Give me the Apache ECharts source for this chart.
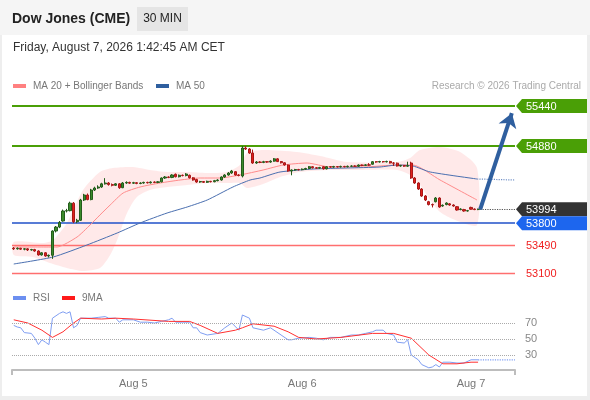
<!DOCTYPE html>
<html><head><meta charset="utf-8">
<script src="https://cdn.jsdelivr.net/npm/echarts@6/dist/echarts.min.js"></script>
<style>html,body{margin:0;padding:0;background:#fff}#c{width:590px;height:400px}</style>
</head><body><div id="c"></div>
<script>
// ---------- DATA ----------
// 30-min candles [open, close, low, high], Aug 4 07:00 -> Aug 7 01:00
const candles = [
[53450,53440,53425,53465],[53440,53448,53430,53460],[53448,53436,53425,53455],[53436,53440,53420,53450],
[53440,53425,53410,53450],[53425,53430,53415,53440],[53430,53410,53400,53440],[53410,53355,53345,53420],
[53355,53385,53345,53395],[53385,53340,53330,53395],[53340,53350,53320,53360],[53350,53690,53300,53700],
[53690,53745,53670,53760],[53745,53810,53730,53830],[53830,53970,53820,53990],[53970,53975,53950,54000],
[53975,54080,53965,54100],[54080,53820,53800,54095],[53820,53840,53800,53860],[53840,54124,53830,54140],
[54124,54194,54110,54210],[54194,54130,54120,54215],[54130,54264,54120,54280],[54264,54292,54250,54310],
[54292,54306,54280,54330],[54306,54350,54295,54365],[54350,54362,54340,54430],[54362,54340,54325,54375],
[54340,54330,54315,54355],[54330,54350,54320,54360],[54350,54296,54280,54360],[54296,54362,54290,54375],
[54362,54370,54350,54385],[54370,54360,54350,54380],[54360,54366,54350,54378],[54366,54356,54345,54375],
[54356,54362,54345,54372],[54362,54370,54352,54380],[54370,54365,54355,54380],[54365,54375,54355,54385],
[54375,54370,54360,54385],[54370,54378,54360,54390],[54378,54432,54370,54440],[54432,54446,54420,54460],
[54446,54440,54430,54455],[54440,54474,54430,54485],[54484,54450,54440,54495],[54450,54470,54440,54480],
[54470,54466,54455,54480],[54466,54488,54455,54500],[54470,54435,54425,54480],[54435,54404,54395,54445],
[54410,54376,54365,54420],[54376,54382,54365,54392],[54382,54372,54362,54390],[54372,54385,54362,54395],
[54385,54380,54370,54392],[54380,54395,54372,54405],[54395,54404,54385,54415],[54404,54446,54395,54455],
[54446,54474,54435,54485],[54474,54502,54465,54515],[54502,54530,54490,54545],[54520,54474,54465,54530],
[54474,54468,54455,54485],[54460,54852,54440,54880],[54852,54838,54825,54880],[54838,54782,54770,54850],
[54782,54642,54630,54830],[54642,54656,54630,54670],[54656,54650,54640,54668],[54650,54660,54640,54672],
[54660,54655,54645,54670],[54655,54668,54645,54680],[54668,54700,54660,54712],[54700,54662,54655,54710],
[54662,54645,54635,54670],[54645,54614,54605,54652],[54614,54530,54520,54620],[54530,54544,54470,54552],
[54544,54550,54535,54560],[54550,54548,54538,54560],[54548,54556,54540,54566],[54556,54565,54545,54575],
[54565,54590,54555,54600],[54590,54575,54565,54598],[54575,54570,54560,54585],[54570,54578,54560,54588],
[54590,54560,54550,54598],[54560,54590,54552,54600],[54590,54585,54575,54600],[54585,54592,54575,54602],
[54592,54588,54578,54600],[54588,54594,54578,54604],[54594,54590,54580,54602],[54590,54596,54580,54606],
[54596,54600,54586,54610],[54600,54596,54586,54610],[54596,54614,54586,54622],[54614,54608,54598,54620],
[54608,54616,54600,54626],[54616,54612,54602,54640],[54625,54660,54618,54670],[54660,54656,54646,54668],
[54656,54662,54648,54672],[54662,54658,54648,54670],[54658,54664,54650,54674],[54664,54642,54635,54672],
[54642,54640,54600,54655],[54640,54600,54592,54648],[54600,54606,54590,54616],[54606,54598,54588,54614],
[54598,54604,54588,54660],[54642,54432,54420,54660],[54432,54362,54350,54445],[54362,54278,54265,54372],
[54278,54180,54168,54290],[54180,54124,54110,54192],[54100,54060,54048,54112],[54060,54055,54020,54075],
[54100,54152,54090,54165],[54152,54026,54015,54162],[54040,54050,54030,54062],[54060,54082,54050,54092],
[54070,54054,54044,54080],[54054,54040,54030,54064],[54030,53984,53975,54040],[53990,53998,53980,54008],
[53990,53970,53960,54000],[53970,53975,53962,53985],[54020,53995,53988,54030],[53998,53990,53982,54006],
[53990,53994,53982,54004]
];
const totalSlots = 143;                 // candle slots incl. empty projection area
const dayLabels = ['Aug 5', 'Aug 6', 'Aug 7'];
const dayStartIndex = [34, 82, 130];

// Indicator readings [slot index, value]
const ma20 = [[0,53466],[7.5,53466],[12.3,53466],[18,53606],[21.7,53774],[24.5,53914],[27.4,54054],[31.1,54222],
  [35.9,54306],[41.6,54362],[47.3,54404],[53,54432],[58.6,54432],[64.3,54474],[70.9,54544],[76.6,54614],
  [83.4,54642],[89.9,54586],[99.3,54586],[109,54614],[113.5,54614],[121.2,54404],[131.7,54124]];
const ma50 = [[0,53228],[11.2,53326],[20.8,53494],[29.4,53662],[35.9,53802],[43.6,53942],[49.3,54026],[55,54124],
  [62.3,54306],[67.2,54404],[70,54432],[75.7,54516],[85.1,54558],[94.8,54572],[104.1,54586],[109,54614],
  [113.5,54600],[118.4,54516],[131.7,54418]];
const ma50Projection = [[131.7,54418],[142.5,54404]];
const bandUpper = [[0,53536],[8.3,53522],[11.2,53564],[15.1,53802],[19.7,54264],[24.5,54516],[28.2,54572],[33.9,54586],
  [38.7,54544],[43.6,54516],[49.3,54516],[55,54502],[60.6,54516],[64.3,54614],[66.3,54782],[70.9,54824],
  [80.5,54796],[87.1,54740],[94.8,54656],[109,54656],[112.7,54712],[115.5,54824],[121.2,54866],[126.9,54796],[131.7,54572]];
const bandLower = [[0,53354],[5.5,53326],[10.3,53242],[15.1,53172],[19.7,53130],[24.5,53172],[27.4,53354],[29.4,53564],
  [32.2,53942],[35,54166],[38.7,54264],[43.6,54306],[49.3,54334],[55,54362],[60.6,54362],[64.3,54362],[66.3,54292],
  [70.9,54348],[75.7,54446],[81.4,54516],[89.9,54544],[98.4,54544],[109,54544],[112.7,54474],[115.5,54334],
  [118.4,54124],[121.2,53956],[125.5,53844],[131.7,53774]];

// Key levels
const targetLevels = [55440, 54880];
const lastPrice = 53994;
const pivotLevel = 53800;
const supportLevels = [53490, 53100];

// RSI panel
const rsi = [[0,67],[1,65],[2,64],[3,58],[5,57],[6,51],[7,43],[8,49],[9,46],[10,43],[11,76],[13,82],[14,84],[15,82],
  [16,84],[17,64],[18,67],[19,76],[21,76],[22,76],[24,77],[26,78],[27,76],[29,76],[30,71],[31,74],[34,74],[36,71],
  [38,71],[40,70],[42,72],[44,74],[45,76],[46,71],[48,71],[50,71],[51,64],[52,64],[53,58],[55,55],[58,57],[60,64],
  [62,70],[64,61],[65,80],[67,76],[68,64],[71,61],[73,64],[76,55],[78,49],[79,49],[81,51],[84,52],[86,51],[88,49],
  [90,52],[93,52],[96,55],[98,55],[100,57],[102,59],[103,61],[105,61],[106,57],[108,55],[109,46],[111,45],[112,49],
  [113,30],[115,24],[116,18],[118,14],[119,15],[120,18],[121,15],[122,21],[124,21],[126,20],[128,20],[130,24],[132,24]];
const rsiProjection = [[132,24],[142.5,24]];
const rsiMA = [[0,74],[4,70],[8,61],[11,52],[14,59],[17,70],[19,76],[25,75],[29,76],[34,75],[44,72],[50,72],[53,67],
  [58,57],[63,61],[65,64],[68,69],[74,66],[78,59],[81,52],[86,50],[93,52],[102,57],[108,57],[113,51],[118,30],
  [122,19],[126,19],[130,21],[132,21]];
const rsiLevels = [70, 50, 30];

// ---------- CHART ----------
const FONT = '"Liberation Sans", Arial, sans-serif';
const xMin = -0.5, xMax = totalSlots - 0.5;
const lastIdx = candles.length - 1;
const slots = Array.from({length: totalSlots}, (_, i) => i);

const levelRows = []
  .concat(targetLevels.map(v => [xMax, v, 0]))
  .concat([[xMax, lastPrice, 1], [xMax, pivotLevel, 2]])
  .concat(supportLevels.map(v => [xMax, v, 3]));
const levelLook = [
  {bg: '#4a9f06', fg: '#ffffff'},
  {bg: '#333333', fg: '#ffffff'},
  {bg: '#1d66ee', fg: '#ffffff'},
  {bg: null, fg: '#f02020'}
];

const chart = echarts.init(document.getElementById('c'), null, {renderer: 'canvas'});
chart.setOption({
  animation: false,
  backgroundColor: '#ffffff',
  textStyle: {fontFamily: FONT},
  grid: [
    {left: 12, right: 75, top: 88, height: 192},
    {left: 12, right: 75, top: 305, height: 65}
  ],
  xAxis: [
    {type: 'category', gridIndex: 0, data: slots, boundaryGap: true, show: false},
    {type: 'value', gridIndex: 0, min: xMin, max: xMax, show: false},
    {type: 'value', gridIndex: 1, min: xMin, max: xMax,
      splitLine: {show: false},
      axisLine: {show: true, lineStyle: {color: '#bdbdbd', width: 2}},
      axisTick: {show: true, customValues: [xMin, xMax], length: 5, lineStyle: {color: '#bdbdbd', width: 2}},
      axisLabel: {customValues: dayStartIndex, color: '#777', fontSize: 11, margin: 8,
        formatter: v => { const k = dayStartIndex.indexOf(v); return k >= 0 ? dayLabels[k] : ''; }}
    }
  ],
  yAxis: [
    {type: 'value', gridIndex: 0, min: 53004, max: 55692, show: false, splitLine: {show: false}},
    {type: 'value', gridIndex: 1, min: 11.25, max: 92.5, show: false, splitLine: {show: false}}
  ],
  series: [
    { // Bollinger band fill
      type: 'custom', xAxisIndex: 1, yAxisIndex: 0, silent: true, z: 1, clip: true,
      data: [[0, bandUpper[0][1]]],
      renderItem: (params, api) => {
        const pts = bandUpper.map(p => api.coord(p)).concat(bandLower.slice().reverse().map(p => api.coord(p)));
        return {type: 'polygon', shape: {points: pts, smooth: 0.25}, style: {fill: 'rgba(255,120,120,0.16)'}};
      }
    },
    {
      type: 'candlestick', xAxisIndex: 0, yAxisIndex: 0, z: 5, data: candles, barWidth: 2.6,
      itemStyle: {color: '#3a8a2a', color0: '#e0201c', borderColor: '#245c1c', borderColor0: '#a81818', borderWidth: 1},
      markLine: {
        silent: true, symbol: 'none', label: {show: false}, z: 3,
        data: [
          {yAxis: targetLevels[0], lineStyle: {color: '#4a9f06', width: 2, type: 'solid'}},
          {yAxis: targetLevels[1], lineStyle: {color: '#4a9f06', width: 2, type: 'solid'}},
          {yAxis: pivotLevel, lineStyle: {color: '#2050c8', width: 1.5, type: 'solid'}}
        ]
      }
    },
    {
      type: 'line', xAxisIndex: 1, yAxisIndex: 0, data: ma20, symbol: 'none', smooth: 0.2, z: 3,
      lineStyle: {color: '#ff8c8c', width: 1},
      markLine: {
        silent: true, label: {show: false}, symbol: ['none', 'arrow'], symbolSize: 14, z: 6,
        lineStyle: {color: '#2f5f9f', width: 4, type: 'solid'},
        data: [[{coord: [lastIdx + 0.6, lastPrice]}, {coord: [xMax - 0.9, targetLevels[0] - 100]}]]
      }
    },
    {
      type: 'line', xAxisIndex: 1, yAxisIndex: 0, data: ma50, symbol: 'none', smooth: 0.2, z: 3,
      lineStyle: {color: '#4a6fb0', width: 1},
      markLine: {
        silent: true, symbol: 'none', label: {show: false}, z: 2,
        lineStyle: {color: '#ff6f6f', width: 1.3, type: 'solid', opacity: 1},
        data: supportLevels.map(v => [{coord: [xMin, v]}, {coord: [xMax, v]}])
      }
    },
    {
      type: 'line', xAxisIndex: 1, yAxisIndex: 0, data: ma50Projection, symbol: 'none', z: 3,
      lineStyle: {color: '#6f8fc6', width: 1.2, type: 'dotted'},
      markLine: {
        silent: true, symbol: 'none', label: {show: false},
        lineStyle: {color: '#555', width: 1.2, type: 'dotted'},
        data: [[{coord: [lastIdx + 0.6, lastPrice]}, {coord: [xMax, lastPrice]}]]
      }
    },
    { // level labels on the right
      type: 'custom', xAxisIndex: 1, yAxisIndex: 0, clip: false, silent: true, z: 10,
      data: levelRows,
      renderItem: (params, api) => {
        const p = api.coord([api.value(0), api.value(1)]);
        const look = levelLook[api.value(2)];
        const x = p[0], y = p[1];
        const children = [];
        if (look.bg) {
          children.push({type: 'polygon', shape: {points: [[x + 1, y], [x + 7, y - 7], [x + 72, y - 7], [x + 72, y + 7], [x + 7, y + 7]]},
            style: {fill: look.bg}});
        }
        children.push({type: 'text', x: x + 11, y: y + 0.5,
          style: {text: String(api.value(1)), fill: look.fg, font: '11px ' + FONT, verticalAlign: 'middle', align: 'left'}});
        return {type: 'group', children: children};
      }
    },
    // RSI panel
    {
      type: 'line', xAxisIndex: 2, yAxisIndex: 1, data: rsi, symbol: 'none', z: 3,
      lineStyle: {color: '#7f9ef2', width: 1},
      markLine: {
        silent: true, symbol: 'none',
        lineStyle: {color: '#aaaaaa', width: 1, type: 'dotted'},
        label: {show: true, position: 'end', distance: 10, color: '#888', fontSize: 11, formatter: '{c}'},
        data: rsiLevels.map(v => ({yAxis: v}))
      }
    },
    {
      type: 'line', xAxisIndex: 2, yAxisIndex: 1, data: rsiProjection, symbol: 'none', z: 3,
      lineStyle: {color: '#7f9ef2', width: 1.2, type: 'dotted'}
    },
    {
      type: 'line', xAxisIndex: 2, yAxisIndex: 1, data: rsiMA, symbol: 'none', z: 4,
      lineStyle: {color: '#ff3030', width: 1}
    }
  ],
  graphic: [
    {type: 'rect', z: -10, shape: {x: 0, y: 0, width: 590, height: 35}, style: {fill: '#f5f5f5'}},
    {type: 'rect', z: -10, shape: {x: 587, y: 35, width: 3, height: 365}, style: {fill: '#eeeeee'}},
    {type: 'rect', z: -10, shape: {x: 0, y: 396, width: 590, height: 4}, style: {fill: '#eeeeee'}},
    {type: 'rect', z: -10, shape: {x: 0, y: 35, width: 2, height: 365}, style: {fill: '#eeeeee'}},
    {type: 'rect', shape: {x: 137, y: 7, width: 51, height: 24}, style: {fill: '#e5e5e5'}},
    {type: 'text', x: 12, y: 19, style: {text: 'Dow Jones (CME)', font: 'bold 14px ' + FONT, fill: '#222', verticalAlign: 'middle'}},
    {type: 'text', x: 162.5, y: 19, style: {text: '30 MIN', font: '12px ' + FONT, fill: '#222', align: 'center', verticalAlign: 'middle'}},
    {type: 'text', x: 13, y: 48, style: {text: 'Friday, August 7, 2026 1:42:45 AM CET', font: '12px ' + FONT, fill: '#333', verticalAlign: 'middle'}},
    {type: 'rect', shape: {x: 13, y: 84, width: 13, height: 4}, style: {fill: '#ff8080'}},
    {type: 'text', x: 33, y: 86, style: {text: 'MA 20 + Bollinger Bands', font: '10px ' + FONT, fill: '#777', verticalAlign: 'middle'}},
    {type: 'rect', shape: {x: 156, y: 84, width: 13, height: 4}, style: {fill: '#2f5f9f'}},
    {type: 'text', x: 176, y: 86, style: {text: 'MA 50', font: '10px ' + FONT, fill: '#777', verticalAlign: 'middle'}},
    {type: 'text', x: 581, y: 86, style: {text: 'Research © 2026 Trading Central', font: '10px ' + FONT, fill: '#aaa', align: 'right', verticalAlign: 'middle'}},
    {type: 'rect', shape: {x: 13, y: 296, width: 13, height: 4}, style: {fill: '#6c8ff0'}},
    {type: 'text', x: 33, y: 298, style: {text: 'RSI', font: '10px ' + FONT, fill: '#777', verticalAlign: 'middle'}},
    {type: 'rect', shape: {x: 62, y: 296, width: 13, height: 4}, style: {fill: '#ff1a1a'}},
    {type: 'text', x: 82, y: 298, style: {text: '9MA', font: '10px ' + FONT, fill: '#777', verticalAlign: 'middle'}}
  ]
});
</script>
</body></html>
